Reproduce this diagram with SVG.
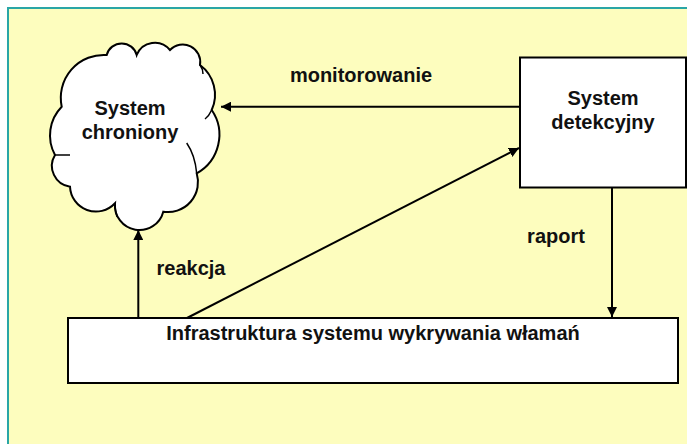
<svg xmlns="http://www.w3.org/2000/svg" width="687" height="444" viewBox="0 0 687 444">
  <defs>
    <style>
      .lbl { font-family: "Liberation Sans", Arial, sans-serif; font-weight: bold; font-size: 20px; fill: #111; text-anchor: middle; }
      .box { fill: #ffffff; stroke: #000; stroke-width: 2; }
      .conn { stroke: #000; stroke-width: 2; fill: none; }
      .inner { fill: none; stroke: #000; stroke-width: 1.5; }
    </style>
    <marker id="arr" viewBox="0 0 10 10" refX="10" refY="5" markerWidth="10" markerHeight="10" markerUnits="userSpaceOnUse" orient="auto">
      <path d="M0,0 L10,5 L0,10 z" fill="#000"/>
    </marker>
  </defs>

  <rect x="0" y="0" width="687" height="444" fill="#ffffff"/>
  <rect x="8" y="8" width="679" height="436" fill="#fdfdbe"/>
  <path d="M8,444 L8,8 L687,8" fill="none" stroke="#2aa6a6" stroke-width="2"/>

  <g id="system-chroniony">
    <path class="box" d="M61.7,106.7 A43,43 0 0 1 106.7,55 A15.5,15.5 0 0 1 136.7,55 A19.5,19.5 0 0 1 170,50 A17.5,17.5 0 0 1 200,65 A37,37 0 0 1 211.7,110 A44,44 0 0 1 196.7,173.3 A30,30 0 0 1 163.3,211.7 A24.6,24.6 0 0 1 115,203.3 A26,26 0 0 1 70,186.7 A21,21 0 0 1 55,155 A41,41 0 0 1 61.7,106.7 Z"/>
    <path class="inner" d="M186.7,143 Q195,155 196.7,173.3"/>
    <path class="inner" d="M200,65 Q203,69 203,74"/>
    <path class="inner" d="M211.7,110 Q209,116 205,119"/>
    <path class="inner" d="M115,203.3 Q115,211 117,216.7"/>
    <path class="inner" d="M55,155 Q62,155 70,155"/>
    <text class="lbl" x="130" y="115">System</text>
    <text class="lbl" x="130" y="139">chroniony</text>
  </g>

  <g id="system-detekcyjny">
    <rect class="box" x="520" y="57.5" width="166" height="130"/>
    <text class="lbl" x="603" y="105">System</text>
    <text class="lbl" x="603" y="129">detekcyjny</text>
  </g>

  <g id="infrastruktura">
    <rect class="box" x="68" y="318" width="610" height="65"/>
    <text class="lbl" x="373" y="340">Infrastruktura systemu wykrywania włamań</text>
  </g>

  <g id="connectors">
    <line class="conn" x1="520" y1="106.7" x2="221" y2="106.7" marker-end="url(#arr)"/>
    <line class="conn" x1="612" y1="188" x2="612" y2="317" marker-end="url(#arr)"/>
    <line class="conn" x1="138.3" y1="318" x2="138.3" y2="230" marker-end="url(#arr)"/>
    <line class="conn" x1="187" y1="318" x2="519" y2="148" marker-end="url(#arr)" stroke-width="1.7"/>
    <text class="lbl" x="361" y="82">monitorowanie</text>
    <text class="lbl" x="556" y="243">raport</text>
    <text class="lbl" x="191" y="275">reakcja</text>
  </g>
</svg>
